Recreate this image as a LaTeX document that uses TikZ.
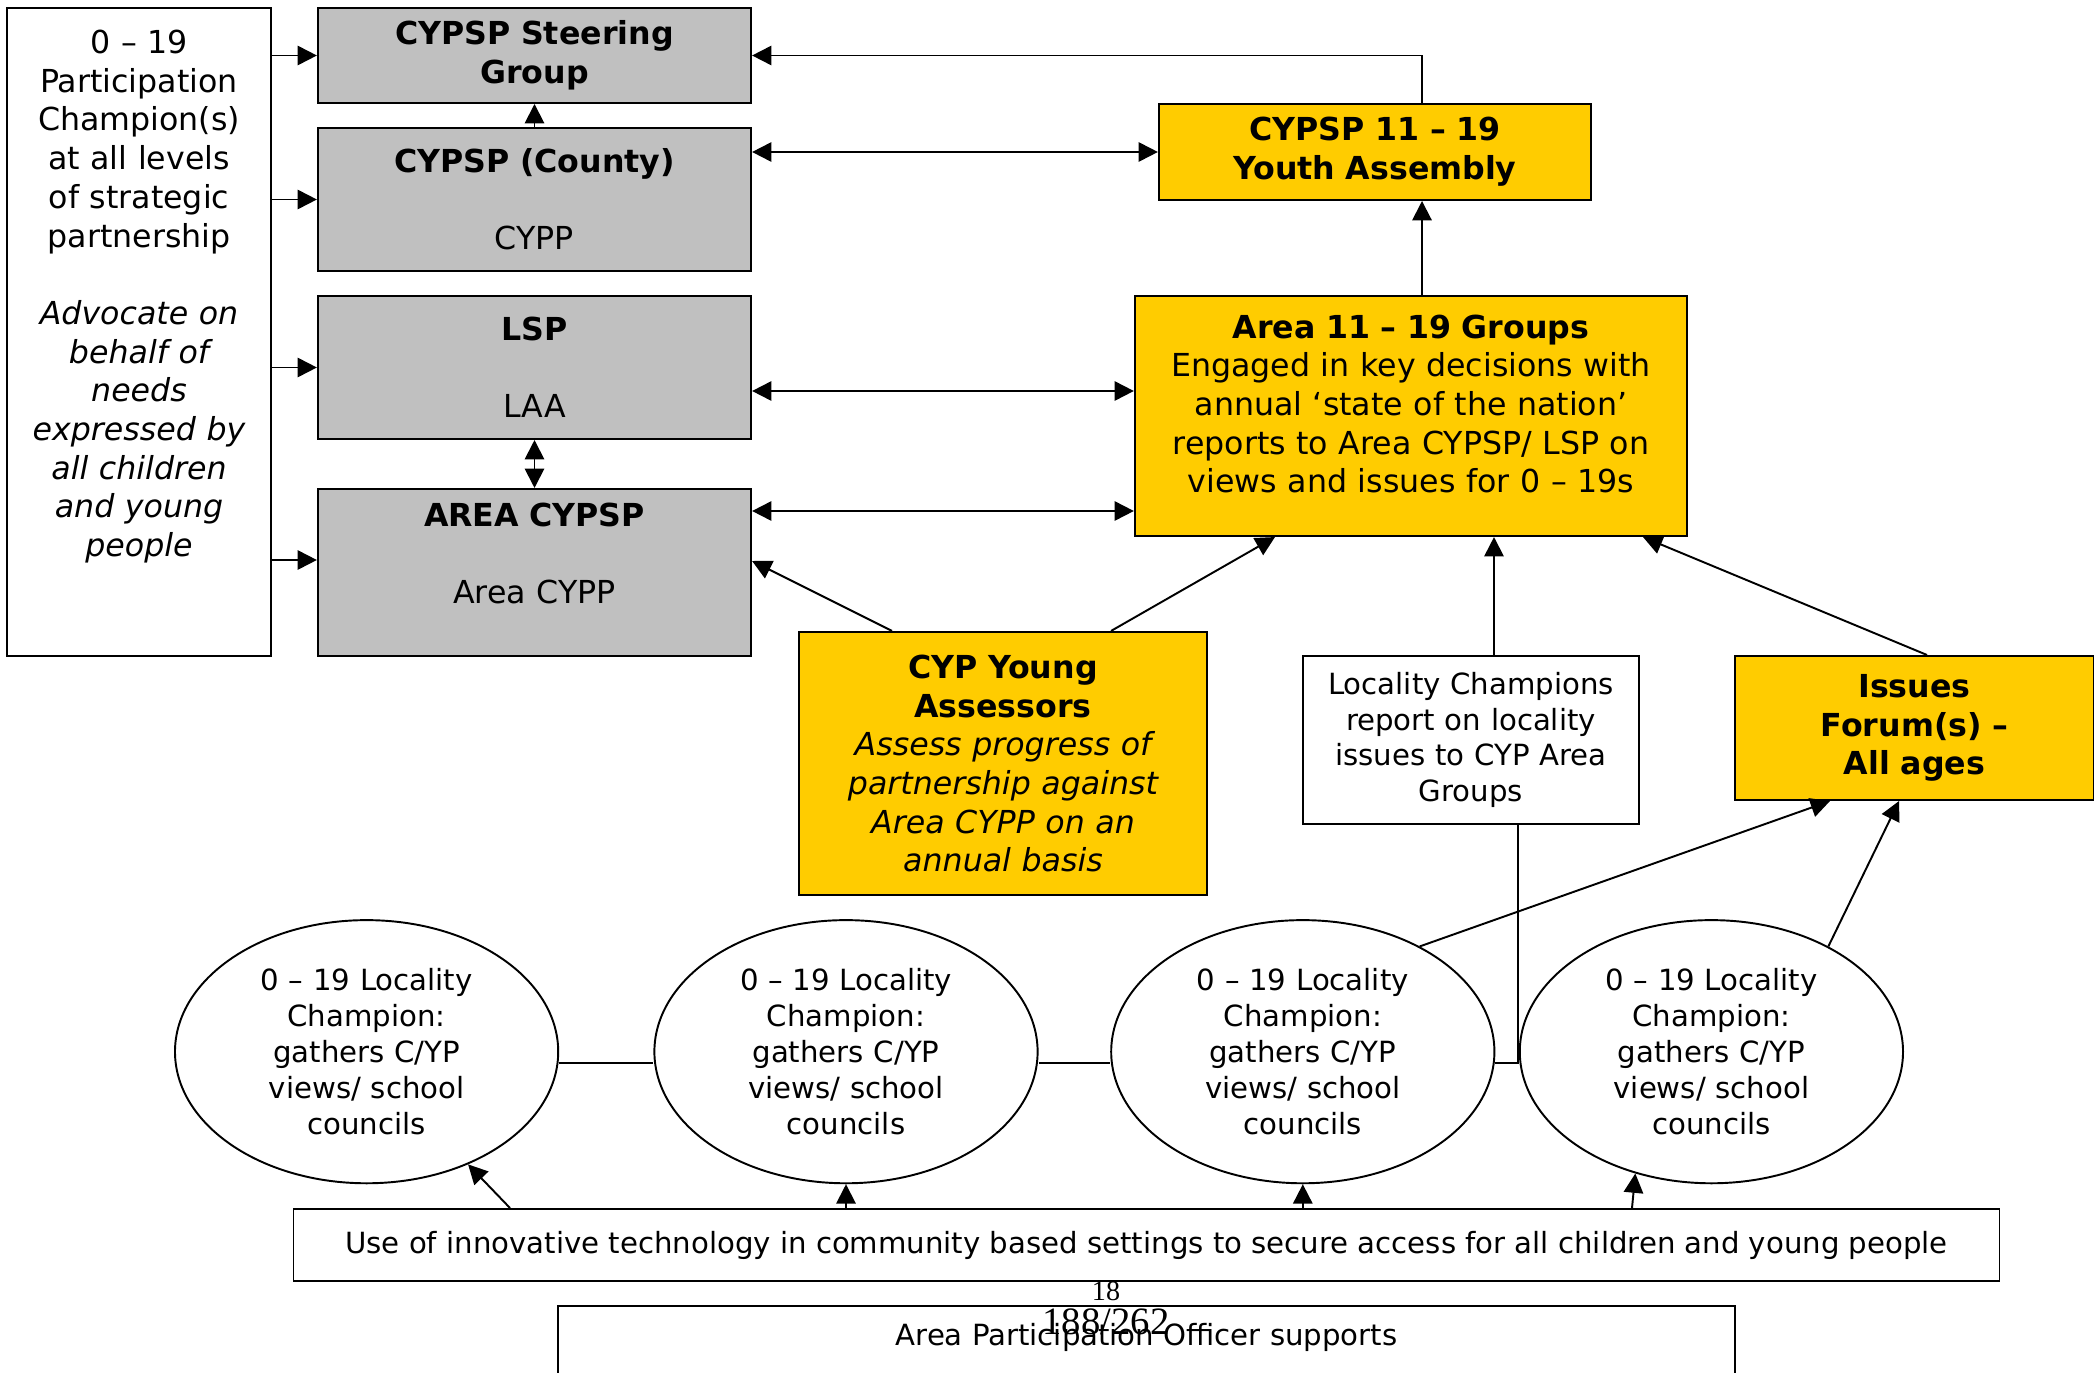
\documentclass[tikz,border=0pt]{standalone}
\usepackage{fontspec}
\setmainfont{DejaVu Sans}
\newfontfamily\pagenumfont{Liberation Serif}
\usepackage{tikz}
\usetikzlibrary{arrows.meta,shapes.geometric}
\definecolor{boxgrey}{HTML}{C0C0C0}
\definecolor{boxyellow}{HTML}{FFCC00}

\begin{document}
\begin{tikzpicture}[x=0.01cm, y=-0.01cm, line width=0.55pt,
    >={Triangle[length=5.5pt,width=5.5pt]},
    box/.style={draw, align=center, inner sep=2pt, font=\fontsize{9}{11}\selectfont},
    smallbox/.style={box, font=\fontsize{8.3}{10.2}\selectfont},
    greybox/.style={box, fill=boxgrey, minimum width=4.33cm, text width=4.1cm},
    yellowbox/.style={box, fill=boxyellow},
    champ/.style={draw, ellipse, inner sep=0pt, minimum width=3.83cm, minimum height=2.63cm,
      text width=2.5cm, align=center, font=\fontsize{8.3}{10.2}\selectfont}]
      \useasboundingbox (0,0) rectangle (2094,1373);

      \node[box, minimum width=2.64cm, minimum height=6.48cm, text width=2.45cm] (champs) at (139,332)
        {0 – 19\\ Participation\\ Champion(s)\\ at all levels\\ of strategic\\ partnership\\ \mbox{}\\
        {\itshape Advocate on\\ behalf of\\ needs\\ expressed by\\ all children\\ and young\\ people}\\ \mbox{}\\ \mbox{}};

      \node[greybox, minimum height=0.95cm] (steer) at (534.5,55.5) {\bfseries CYPSP Steering\\ Group};
      \node[greybox, minimum height=1.43cm] (county) at (534.5,199.5) {{\bfseries CYPSP (County)}\\ \mbox{}\\ CYPP};
      \node[greybox, minimum height=1.43cm] (lsp) at (534.5,367.5) {{\bfseries LSP}\\ \mbox{}\\ LAA};
      \node[greybox, minimum height=1.67cm] (area) at (534.5,572.5) {{\bfseries AREA CYPSP}\\ \mbox{}\\ Area CYPP\\ \mbox{}};

      \node[yellowbox, minimum width=4.32cm, minimum height=0.96cm, text width=4.1cm] (youth) at (1375,152)
        {\bfseries CYPSP 11 – 19\\ Youth Assembly};
      \node[yellowbox, minimum width=5.52cm, minimum height=2.40cm, text width=5.3cm] (groups) at (1411,416)
        {{\bfseries Area 11 – 19 Groups}\\ Engaged in key decisions with\\ annual ‘state of the nation’\\
        reports to Area CYPSP/ LSP on\\ views and issues for 0 – 19s\\[-4pt] \mbox{}};
      \node[yellowbox, minimum width=4.08cm, minimum height=2.63cm, text width=3.9cm] (assessors) at (1003,763.5)
        {{\bfseries CYP Young\\ Assessors}\\ {\itshape Assess progress of\\ partnership against\\ Area CYPP on an\\ annual basis}};
      \node[smallbox, minimum width=3.36cm, minimum height=1.68cm, text width=3.2cm] (locality) at (1471,740)
        {Locality Champions\\ report on locality\\ issues to CYP Area\\ Groups};
      \node[yellowbox, minimum width=3.59cm, minimum height=1.44cm, text width=3.4cm] (issues) at (1914.5,728)
        {\bfseries Issues\\ Forum(s) –\\ All ages};

      \node[champ] (e1) at (366.6,1051.7) {0 – 19 Locality\\ Champion:\\ gathers C/YP\\ views/ school\\ councils};
      \node[champ] (e2) at (846,1051.7) {0 – 19 Locality\\ Champion:\\ gathers C/YP\\ views/ school\\ councils};
      \node[champ] (e3) at (1302.8,1051.7) {0 – 19 Locality\\ Champion:\\ gathers C/YP\\ views/ school\\ councils};
      \node[champ] (e4) at (1711.4,1051.7) {0 – 19 Locality\\ Champion:\\ gathers C/YP\\ views/ school\\ councils};

      \node[smallbox, minimum width=17.05cm, minimum height=0.72cm] (tech) at (1146.5,1245)
        {Use of innovative technology in community based settings to secure access for all children and young people};
      \node[smallbox, anchor=north, minimum width=11.77cm, inner ysep=5pt, text depth=1.6cm] (apo) at (1146.5,1305)
        {Area Participation Officer supports};
      \node[font=\pagenumfont\fontsize{8}{9}\selectfont] (pgno) at (1106,1291) {18};
      \node[font=\pagenumfont\fontsize{11}{12}\selectfont] (pgcount) at (1106,1322) {188/262};

      \coordinate (join) at (1518,1063);

      \draw[->] (champs.east |- steer.west) -- (steer.west);
      \draw[->] (champs.east |- county.west) -- (county.west);
      \draw[->] (champs.east |- lsp.west) -- (lsp.west);
      \draw[->] (champs.east |- 0,560) -- (area.west |- 0,560);

      \draw[->] (county.north) -- (steer.south);
      \draw[->] (youth.north -| 1422,0) |- (steer.east);
      \draw[<->] (county.east |- youth.west) -- (youth.west);
      \draw[<->] (lsp.south) -- (area.north);
      \draw[<->] (lsp.east |- 0,391) -- (groups.west |- 0,391);
      \draw[<->] (area.east |- 0,511) -- (groups.west |- 0,511);
      \draw[->] (groups.north -| 1422,0) -- (youth.south -| 1422,0);

      \draw[->] (assessors.north -| 892,0) -- (area.east |- 0,561);
      \draw[->] (assessors.north -| 1111,0) -- (groups.south -| 1275,0);
      \draw[->] (locality.north -| 1494,0) -- (groups.south -| 1494,0);
      \draw[->] (issues.north -| 1927,0) -- (groups.south -| 1643,0);
      \draw[->] (e3.42) -- (issues.south -| 1830,0);
      \draw[->] (e4.42) -- (issues.south -| 1899,0);

      \draw (e1.east |- 0,1063) -- (e2.west |- 0,1063);
      \draw (e2.east |- 0,1063) -- (e3.west |- 0,1063);
      \draw (e3.east |- join) -- (e4.west |- join);
      \draw (locality.south -| join) -- (join);

      \draw[->] (tech.north -| 510,0) -- (e1.-48);
      \draw[->] (tech.north -| e2.south) -- (e2.south);
      \draw[->] (tech.north -| e3.south) -- (e3.south);
      \draw[->] (tech.north -| 1632,0) -- (e4.238);
\end{tikzpicture}
\end{document}
